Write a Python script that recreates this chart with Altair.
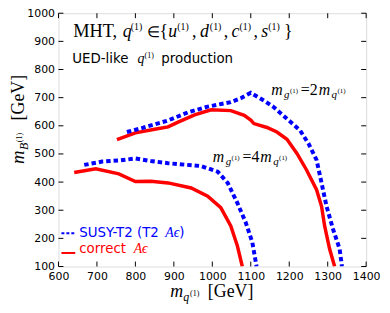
import altair as alt
import pandas as pd

# ---------------- data ----------------
outer_red_x = [752, 800, 850, 885, 911, 954, 997, 1048, 1083, 1100, 1108, 1142, 1168, 1194, 1220, 1245, 1271, 1284, 1292, 1305, 1318]
outer_red_y = [551, 575, 588, 596, 613, 639, 657, 654, 637, 620, 608, 594, 578, 552, 502, 443, 373, 314, 244, 162, 100]

outer_blue_x = [778, 817, 885, 937, 988, 1048, 1074, 1100, 1134, 1160, 1194, 1228, 1250, 1271, 1284, 1297, 1314, 1331, 1337]
outer_blue_y = [578, 592, 619, 648, 668, 684, 698, 717, 690, 666, 625, 584, 537, 479, 397, 314, 232, 162, 100]

inner_red_x = [641, 697, 757, 800, 840, 885, 945, 988, 1022, 1048, 1065, 1078]
inner_red_y = [434, 447, 429, 402, 403, 397, 379, 350, 309, 244, 174, 100]

inner_blue_x = [667, 714, 760, 800, 840, 885, 971, 1014, 1040, 1065, 1087, 1104, 1115]
inner_blue_y = [461, 473, 477, 484, 475, 467, 457, 437, 397, 326, 256, 186, 100]

x_ticks = [600, 700, 800, 900, 1000, 1100, 1200, 1300, 1400]
y_ticks = [100, 200, 300, 400, 500, 600, 700, 800, 900, 1000]

# ---------------- layout ----------------
W, H = 311, 256
OX, OY = 59, 11.7  # image position of plot origin

RED = "#ff0000"
BLUE = "#0000ff"
SERIF = "Liberation Serif"
SANS = "DejaVu Sans"


def frame(xs, ys, name):
    return pd.DataFrame({"x": xs, "y": ys, "curve": name, "ord": range(len(xs))})


red_df = pd.concat([frame(outer_red_x, outer_red_y, "outer"), frame(inner_red_x, inner_red_y, "inner")])
blue_df = pd.concat([frame(outer_blue_x, outer_blue_y, "outer"), frame(inner_blue_x, inner_blue_y, "inner")])

xscale = alt.Scale(domain=[600, 1400], nice=False, zero=False)
yscale = alt.Scale(domain=[100, 1000], nice=False, zero=False)
xaxis = alt.Axis(values=x_ticks, ticks=False, domain=False, grid=False, title=None, format="d",
                 labelFont=SANS, labelFontSize=11, labelColor="black", labelPadding=4,
                 labelFlush=False, labelOverlap=False)
yaxis = alt.Axis(values=y_ticks, ticks=False, domain=False, grid=False, title=None, format="d",
                 labelFont=SANS, labelFontSize=11, labelColor="black", labelPadding=4,
                 labelFlush=False, labelOverlap=False)
X = alt.X("x:Q", scale=xscale, axis=xaxis)
Y = alt.Y("y:Q", scale=yscale, axis=yaxis)

red = alt.Chart(red_df).mark_line(color=RED, strokeWidth=3.5, clip=True).encode(
    x=X, y=Y, detail="curve:N", order="ord:Q")
blue = alt.Chart(blue_df).mark_line(color=BLUE, strokeWidth=4, strokeDash=[4.5, 3], strokeCap="butt", clip=True).encode(
    x=X, y=Y, detail="curve:N", order="ord:Q")

# inward ticks (matplotlib style) on all four sides
xt = pd.DataFrame({"x": x_ticks})
yt = pd.DataFrame({"y": y_ticks})
TL = 5
ticks = [
    alt.Chart(xt).mark_rule(color="black", strokeWidth=1).encode(x=X, y=alt.value(H), y2=alt.value(H - TL)),
    alt.Chart(xt).mark_rule(color="black", strokeWidth=1).encode(x=X, y=alt.value(0), y2=alt.value(TL)),
    alt.Chart(yt).mark_rule(color="black", strokeWidth=1).encode(y=Y, x=alt.value(0), x2=alt.value(TL)),
    alt.Chart(yt).mark_rule(color="black", strokeWidth=1).encode(y=Y, x=alt.value(W), x2=alt.value(W - TL)),
]


def txt(s, x, y, size, font=SERIF, style="normal", color="black", angle=0, align="left", baseline="alphabetic"):
    return alt.Chart(pd.DataFrame({"t": [s]})).mark_text(
        text=s, font=font, fontSize=size, fontStyle=style, color=color, angle=angle,
        align=align, baseline=baseline).encode(x=alt.value(x - OX), y=alt.value(y - OY))


def sup1(letter, x, y, size, supx, rise, supsize, color="black"):
    """italic letter with a raised '(1)'"""
    return [txt(letter, x, y, size, style="italic", color=color),
            txt("(1)", supx, y - rise, supsize, color=color)]


texts = [
    # header
    txt("MHT,", 74, 36, 18.5),
    *sup1("q", 124, 36, 18, 132, 7, 10),
    txt("∈", 148, 36, 15),
    txt("{", 161, 36, 18),
    *sup1("u", 170, 36, 18, 179, 7, 10),
    txt(",", 194, 36, 18),
    *sup1("d", 202, 36, 18, 212, 7, 10),
    txt(",", 226, 36, 18),
    *sup1("c", 234, 36, 18, 242, 7, 10),
    txt(",", 256, 36, 18),
    *sup1("s", 264, 36, 18, 271, 7, 10),
    txt("}", 287, 36, 18),
    txt("UED-like", 73, 62, 13.5, font=SANS),
    *sup1("q", 139, 62, 14, 146, 5.5, 8),
    txt("production", 163, 62, 13.5, font=SANS),
    # annotation 2m
    txt("m", 274, 94, 16, style="italic"),
    txt("g", 287, 97, 11, style="italic"),
    txt("(1)", 293, 92, 7),
    txt("=2", 304, 94, 16),
    txt("m", 322, 94, 16, style="italic"),
    txt("q", 335, 97, 11, style="italic"),
    txt("(1)", 341, 92, 7),
    # annotation 4m
    txt("m", 215, 162, 16, style="italic"),
    txt("g", 228, 165, 11, style="italic"),
    txt("(1)", 234, 160, 7),
    txt("=4", 245, 162, 16),
    txt("m", 263, 162, 16, style="italic"),
    txt("q", 276, 165, 11, style="italic"),
    txt("(1)", 282, 160, 7),
    # legend
    txt("SUSY-T2 (T2", 80, 238, 13.5, font=SANS, color=BLUE),
    txt("Aϵ", 167, 238, 14, style="italic", color=BLUE),
    txt(")", 181, 238, 13.5, font=SANS, color=BLUE),
    txt("correct", 80, 254, 13.5, font=SANS, color=RED),
    txt("Aϵ", 135, 254, 14, style="italic", color=RED),
    # x axis title
    txt("m", 172, 299, 18, style="italic"),
    txt("q", 185, 303, 12, style="italic"),
    txt("(1)", 192, 297, 8),
    txt("[GeV]", 210, 299, 18),
    # y axis title (rotated, reads bottom to top)
    txt("m", 24, 164, 19, style="italic", angle=270),
    txt("B", 28, 150, 12, style="italic", angle=270),
    txt("(1)", 22, 142, 8, angle=270),
    txt("[GeV]", 24, 120, 18, angle=270),
]

legend_blue = alt.Chart(pd.DataFrame({"a": [0]})).mark_rule(color=BLUE, strokeWidth=2, strokeDash=[3, 2]).encode(
    x=alt.value(62 - OX), x2=alt.value(77 - OX), y=alt.value(234 - OY))
legend_red = alt.Chart(pd.DataFrame({"a": [0]})).mark_rule(color=RED, strokeWidth=2).encode(
    x=alt.value(62 - OX), x2=alt.value(76 - OX), y=alt.value(254 - OY))

chart = alt.layer(red, blue, *ticks, legend_blue, legend_red, *texts).properties(
    width=W, height=H,
    autosize=alt.AutoSizeParams(type="none"),
    padding={"left": 51, "top": 3.7, "right": 16, "bottom": 37},
).configure_view(stroke="black", strokeWidth=1).configure(background="white")

chart.save("out.html", embed_options={"renderer": "svg", "actions": False})
